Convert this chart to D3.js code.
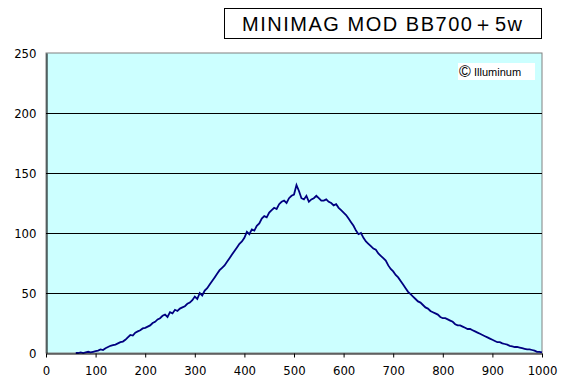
<!DOCTYPE html>
<html>
<head>
<meta charset="utf-8">
<script src="https://cdn.jsdelivr.net/npm/d3@7"></script>
<style>
  body { margin: 0; background: #fff; }
  text { font-family: "Liberation Sans", "DejaVu Sans", sans-serif; }
</style>
</head>
<body>
<div id="chart"></div>
<script>
// chart values
const titleText = 'MINIMAG MOD BB700\uFF0B5w';
const yTicks = [0, 50, 100, 150, 200, 250];
const xTicks = [0, 100, 200, 300, 400, 500, 600, 700, 800, 900, 1000];
const xStart = 60, xStep = 5;
const counts = [
  0, 0, 0.5, 0, 0.5, 1, 0.5, 1, 1.5, 2,
  3, 2.5, 4, 5, 6, 6.5, 7, 8, 9, 9.5,
  11, 13, 15, 14.5, 17, 18, 19, 20.5, 21, 22,
  23, 25, 26, 28, 29, 31, 32, 30, 34, 33,
  36, 35, 37, 38, 39, 41, 42, 44, 47, 45,
  50, 48, 52, 54, 57, 60, 63, 66, 69, 71,
  73, 76, 79, 82, 85, 88, 91, 93, 96, 101,
  99, 103, 102, 106, 108, 112, 114, 113, 117, 119,
  121, 120, 124, 126, 127, 125, 129, 131, 132, 140,
  135, 129, 128, 131, 126, 128, 129, 131, 129, 127,
  127, 128, 126, 125, 123, 124, 121, 119, 117, 115,
  112, 109, 106, 102, 99, 100, 96, 93, 91, 89,
  87, 86, 83, 81, 79, 77, 73, 70, 68, 65,
  63, 60, 57, 54, 51, 49, 47, 45, 43, 42,
  40, 38, 37, 35, 34, 33, 32, 30, 29, 29,
  28, 27, 26, 24, 23, 23, 22, 21, 20, 20,
  19, 18, 17, 16, 15, 14, 13, 12, 11, 10,
  9, 9, 8, 7.5, 7, 6, 5.5, 5, 5, 4.5,
  4, 3.5, 3, 3, 2.5, 2, 1, 1, 0.5
];
const positions = d3.range(xStart, xStart + xStep * counts.length, xStep);
const data = positions.map((p, i) => ({ x: p, y: counts[i] }));

const width = 561, height = 384;
const margin = { left: 46, right: 19, top: 53, bottom: 31 };

const svg = d3.select('#chart').append('svg')
  .attr('width', width)
  .attr('height', height);

const xScale = d3.scaleLinear()
  .domain([0, 1000])
  .range([margin.left, width - margin.right]);

const yScale = d3.scaleLinear()
  .domain([0, 250])
  .range([height - margin.bottom, margin.top]);

// plot background
svg.append('rect')
  .attr('x', xScale(0))
  .attr('y', yScale(250))
  .attr('width', xScale(1000) - xScale(0))
  .attr('height', yScale(0) - yScale(250))
  .attr('fill', '#ccffff')
  .attr('stroke', '#808080')
  .attr('stroke-width', 1);

// gridlines
svg.append('g')
  .selectAll('line')
  .data(yTicks.filter(d => d > 0 && d < 250))
  .enter().append('line')
  .attr('x1', xScale(0))
  .attr('x2', xScale(1000))
  .attr('y1', d => Math.round(yScale(d)) + 0.5)
  .attr('y2', d => Math.round(yScale(d)) + 0.5)
  .attr('stroke', '#000')
  .attr('stroke-width', 1);

// the spectrum
const line = d3.line()
  .x(d => xScale(d.x))
  .y(d => yScale(d.y));

svg.append('path')
  .datum(data)
  .attr('d', line)
  .attr('fill', 'none')
  .attr('stroke', '#000080')
  .attr('stroke-width', 1.8);

// axes
const xAxis = svg.append('g')
  .attr('transform', `translate(0,${Math.round(yScale(0)) + 0.5})`)
  .call(d3.axisBottom(xScale).tickValues(xTicks).tickFormat(d3.format('d'))
    .tickSize(4).tickSizeOuter(0).tickPadding(8));

const yAxis = svg.append('g')
  .attr('transform', `translate(${Math.round(xScale(0)) + 0.5},0)`)
  .call(d3.axisLeft(yScale).tickValues(yTicks).tickSize(0).tickSizeOuter(0).tickPadding(10));

[xAxis, yAxis].forEach(g => {
  g.select('.domain').attr('stroke', '#000');
  g.selectAll('.tick line').attr('stroke', '#000');
  g.selectAll('.tick text')
    .attr('font-size', 13)
    .attr('fill', '#000')
    .style('font-family', '"DejaVu Sans Condensed", "Liberation Sans", sans-serif');
});

// title box
svg.append('rect')
  .attr('x', 224.5)
  .attr('y', 8.5)
  .attr('width', 317)
  .attr('height', 30)
  .attr('fill', '#fff')
  .attr('stroke', '#000');

svg.append('text')
  .attr('x', 242)
  .attr('y', 31)
  .attr('font-size', 20)
  .attr('textLength', 280)
  .attr('lengthAdjust', 'spacing')
  .text(titleText);

// watermark
svg.append('rect')
  .attr('x', 458)
  .attr('y', 63)
  .attr('width', 77)
  .attr('height', 17)
  .attr('fill', '#fff');

svg.append('text')
  .attr('x', 459)
  .attr('y', 77)
  .attr('font-size', 16)
  .attr('fill', '#000')
  .text('\u00A9');

svg.append('text')
  .attr('x', 474)
  .attr('y', 76)
  .attr('font-size', 11)
  .attr('fill', '#000')
  .text('Illuminum');
</script>
</body>
</html>
